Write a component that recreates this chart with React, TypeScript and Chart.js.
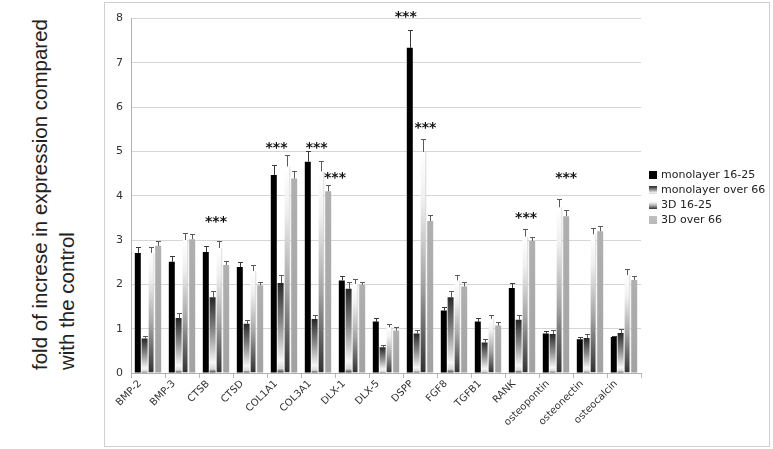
import React, { useEffect, useRef } from 'react';
import { Chart, registerables } from 'chart.js';

Chart.register(...registerables);

const categories = ['BMP-2', 'BMP-3', 'CTSB', 'CTSD', 'COL1A1', 'COL3A1', 'DLX-1', 'DLX-5', 'DSPP', 'FGF8', 'TGFB1', 'RANK', 'osteopontin', 'osteonectin', 'osteocalcin'];
const seriesLabels = ['monolayer 16-25', 'monolayer over 66', '3D 16-25', '3D over 66'];

const mono1625 = [2.71, 2.51, 2.73, 2.39, 4.47, 4.77, 2.09, 1.16, 7.34, 1.41, 1.16, 1.92, 0.89, 0.76, 0.81];
const monoOver66 = [0.78, 1.24, 1.71, 1.11, 2.03, 1.22, 1.90, 0.58, 0.89, 1.71, 0.69, 1.20, 0.88, 0.79, 0.90];
const d3_1625 = [2.71, 3.00, 2.82, 2.30, 4.66, 4.55, 2.01, 1.03, 4.99, 2.09, 1.22, 3.08, 3.74, 3.13, 2.21];
const d3Over66 = [2.87, 3.02, 2.44, 1.98, 4.39, 4.10, 1.99, 0.96, 3.43, 1.95, 1.07, 2.98, 3.54, 3.20, 2.10];

const sdMono1625 = [0.14, 0.13, 0.14, 0.12, 0.23, 0.25, 0.10, 0.07, 0.41, 0.08, 0.07, 0.11, 0.05, 0.05, 0.03];
const sdMonoOver66 = [0.06, 0.11, 0.14, 0.09, 0.18, 0.09, 0.16, 0.06, 0.07, 0.14, 0.07, 0.10, 0.09, 0.08, 0.09];
const sd3D1625 = [0.14, 0.16, 0.16, 0.13, 0.26, 0.24, 0.11, 0.07, 0.29, 0.12, 0.08, 0.17, 0.19, 0.15, 0.13];
const sd3DOver66 = [0.11, 0.12, 0.09, 0.08, 0.17, 0.15, 0.07, 0.07, 0.14, 0.11, 0.07, 0.10, 0.13, 0.12, 0.09];

const yTicks = [0, 1, 2, 3, 4, 5, 6, 7, 8];

// significance marks: category, level (data units), bar anchor (series index, fractional)
const starCategories = ['CTSB', 'COL1A1', 'COL3A1', 'COL3A1', 'DSPP', 'DSPP', 'RANK', 'osteopontin'];
const starLevels = [3.46, 5.13, 5.13, 4.45, 8.07, 5.58, 3.55, 4.45];
const starAnchors = [1.5, 0.4, 1.3, 4, -0.6, 2.3, 2.1, 3];
const starText = '***';

const yTitleLines = ['fold of increse in expression compared', 'with the control'];

const FONT = "'DejaVu Sans', Verdana, sans-serif";

const values = [mono1625, monoOver66, d3_1625, d3Over66];
const errors = [sdMono1625, sdMonoOver66, sd3D1625, sd3DOver66];

const stopsMono66: [number, string][] = [[0, '#262626'], [0.45, '#8a8a8a'], [0.86, '#f6f6f6'], [0.95, '#d8d8d8'], [1, '#2a2a2a']];
const stops3D1625: [number, string][] = [[0, '#ffffff'], [0.22, '#efefef'], [0.6, '#a4a4a4'], [1, '#303030']];
const stops3D66: [number, string][] = [[0, '#b0b0b0'], [1, '#a2a2a2']];

function gradientFill(stops: [number, string][]) {
  return (c: any) => {
    const chart = c.chart;
    const ys = chart.scales && chart.scales.y;
    if (!ys || c.type !== 'data' || c.raw == null) return stops[Math.floor(stops.length / 2)][1];
    const top = ys.getPixelForValue(c.raw);
    const bot = ys.getPixelForValue(0);
    if (!isFinite(top) || !isFinite(bot) || Math.abs(bot - top) < 1) return stops[0][1];
    const g = chart.ctx.createLinearGradient(0, top, 0, bot);
    for (const [o, col] of stops) g.addColorStop(o, col);
    return g;
  };
}

const overlayPlugin = {
  id: 'overlay',
  afterDatasetsDraw(chart: any) {
    const ctx = chart.ctx;
    const ys = chart.scales.y;
    const area = chart.chartArea;
    ctx.save();
    // error bars
    errors.forEach((errArr, di) => {
      const meta = chart.getDatasetMeta(di);
      meta.data.forEach((el: any, i: number) => {
        const v = values[di][i];
        const e = errArr[i];
        const x = Math.round(el.x) + 0.5;
        const y0 = ys.getPixelForValue(v);
        const y1 = Math.round(ys.getPixelForValue(v + e)) + 0.5;
        ctx.strokeStyle = di === 0 ? '#3a3a3a' : '#5a5a5a';
        ctx.lineWidth = 1;
        ctx.beginPath();
        ctx.moveTo(x, y0);
        ctx.lineTo(x, y1);
        ctx.moveTo(x - 2.5, y1);
        ctx.lineTo(x + 2.5, y1);
        ctx.stroke();
      });
    });
    // significance marks
    ctx.fillStyle = '#111';
    ctx.font = `bold 14px ${FONT}`;
    ctx.textAlign = 'center';
    ctx.textBaseline = 'alphabetic';
    starCategories.forEach((cat, k) => {
      const ci = categories.indexOf(cat);
      const m0 = chart.getDatasetMeta(0).data[ci];
      const m1 = chart.getDatasetMeta(1).data[ci];
      const step = m1.x - m0.x;
      const x = m0.x + starAnchors[k] * step;
      const y = ys.getPixelForValue(starLevels[k]);
      ctx.fillText(starText, x, y + 6);
    });
    // legend
    const rowH = 15;
    const cy = (area.top + area.bottom) / 2 + 2;
    const lx = area.right + 8;
    ctx.font = `11px ${FONT}`;
    ctx.textAlign = 'left';
    ctx.textBaseline = 'middle';
    const legendStops = [[[0, '#000'], [1, '#000']], stopsMono66, stops3D1625, [[0, '#c0c0c0'], [1, '#b8b8b8']]] as [number, string][][];
    seriesLabels.forEach((lab, i) => {
      const ry = cy + (i - 1.5) * rowH;
      const top = Math.round(ry - 4);
      const g = ctx.createLinearGradient(0, top, 0, top + 8);
      for (const [o, col] of legendStops[i]) g.addColorStop(o, col);
      ctx.fillStyle = g;
      ctx.fillRect(lx, top, 8, 8);
      ctx.fillStyle = '#222';
      ctx.fillText(lab, lx + 12, ry);
    });
    ctx.restore();
  },
};

export default function App() {
  const canvasRef = useRef<HTMLCanvasElement | null>(null);

  useEffect(() => {
    if (!canvasRef.current) return;
    const chart = new Chart(canvasRef.current, {
      type: 'bar',
      data: {
        labels: categories,
        datasets: [
          { label: seriesLabels[0], data: mono1625, backgroundColor: '#000000' },
          { label: seriesLabels[1], data: monoOver66, backgroundColor: gradientFill(stopsMono66) as any },
          {
            label: seriesLabels[2],
            data: d3_1625,
            backgroundColor: gradientFill(stops3D1625) as any,
            borderColor: '#bdbdbd',
            borderWidth: { top: 0, left: 0, bottom: 0, right: 1 } as any,
            borderSkipped: false,
          },
          { label: seriesLabels[3], data: d3Over66, backgroundColor: gradientFill(stops3D66) as any },
        ],
      },
      options: {
        animation: false,
        responsive: false,
        maintainAspectRatio: false,
        devicePixelRatio: 1,
        datasets: { bar: { categoryPercentage: 0.8, barPercentage: 0.88 } },
        layout: { padding: { top: 15.5, right: 128, left: 0, bottom: 0 } },
        plugins: {
          legend: { display: false },
          tooltip: { enabled: false },
        },
        scales: {
          x: {
            offset: true,
            grid: { offset: true, drawOnChartArea: false, drawTicks: true, tickLength: 5, color: '#b8b8b8' },
            border: { color: '#b0b0b0' },
            ticks: {
              color: '#333',
              font: { family: FONT, size: 10 },
              minRotation: 45,
              maxRotation: 45,
              autoSkip: false,
              padding: 0,
              labelOffset: -8,
            },
            afterFit: (s: any) => { s.height = 73; },
          },
          y: {
            min: 0,
            max: 8,
            afterBuildTicks: (s: any) => { s.ticks = yTicks.map((v) => ({ value: v })); },
            grid: { color: '#d6d6d6', lineWidth: 1, drawTicks: false },
            border: { color: '#b0b0b0' },
            ticks: { color: '#333', font: { family: FONT, size: 11 }, padding: 8 },
            afterFit: (s: any) => { s.width = 26; },
          },
        },
      },
      plugins: [overlayPlugin],
    });
    return () => chart.destroy();
  }, []);

  return (
    <div style={{ position: 'absolute', left: 0, top: 0, width: 773, height: 449, background: '#fff', overflow: 'hidden' }}>
      <div
        style={{
          position: 'absolute',
          left: 26,
          top: 370,
          width: 380,
          transformOrigin: 'left top',
          transform: 'rotate(-90deg)',
          fontFamily: "'Liberation Sans', Arial, sans-serif",
          fontSize: 20.5,
          lineHeight: '27px',
          color: '#222',
          whiteSpace: 'nowrap',
        }}
      >
        {yTitleLines.map((t) => (
          <div key={t}>{t}</div>
        ))}
      </div>
      <div
        style={{
          position: 'absolute',
          left: 104,
          top: 2,
          width: 664,
          height: 443,
          border: '1px solid #d0d0d0',
        }}
      >
        <canvas ref={canvasRef} width={664} height={443} style={{ display: 'block', width: 664, height: 443 }} />
      </div>
    </div>
  );
}
